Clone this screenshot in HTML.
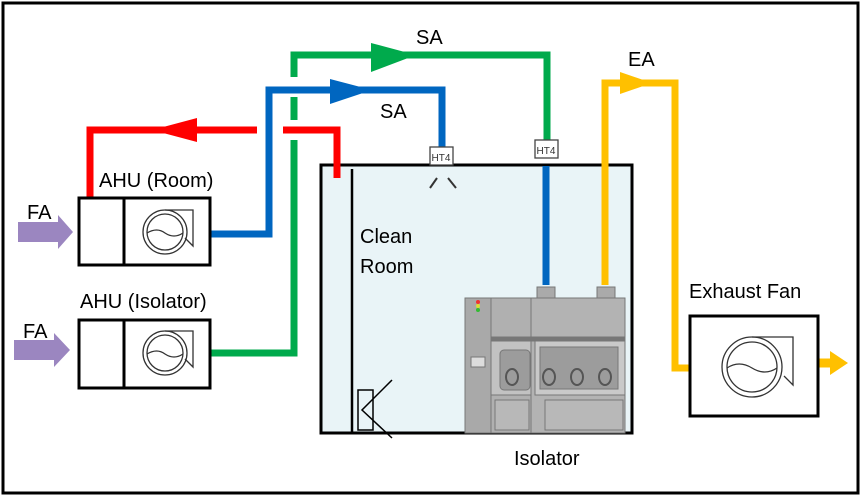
<!DOCTYPE html>
<html><head><meta charset="utf-8"><style>
html,body{margin:0;padding:0;background:#fff;}
svg{display:block;font-family:"Liberation Sans",Arial,sans-serif;}
</style></head><body>
<svg width="865" height="504" viewBox="0 0 865 504" xmlns="http://www.w3.org/2000/svg">
<rect x="3" y="3" width="855" height="490" fill="#fff" stroke="#000" stroke-width="3"/>
<!-- clean room -->
<rect x="321" y="165" width="311" height="268" fill="#e9f4f7" stroke="#000" stroke-width="3"/>
<line x1="352" y1="169" x2="352" y2="433" stroke="#000" stroke-width="2.5"/>
<!-- pipes -->
<g fill="none" stroke-width="7" stroke-linejoin="miter">
<polyline points="210,234 269,234 269,90 442,90 442,150" stroke="#0066c0"/>
<line x1="546" y1="166" x2="546" y2="285" stroke="#0066c0"/>
<polyline points="210,353 294,353 294,140" stroke="#00aa4c"/>
<line x1="294" y1="120" x2="294" y2="97" stroke="#00aa4c"/>
<polyline points="294,77 294,55 547,55 547,141" stroke="#00aa4c"/>
<polyline points="90,198 90,130 257,130" stroke="#ff0000"/>
<polyline points="283,130 337,130 337,178" stroke="#ff0000"/>
<polyline points="605,285 605,83 675,83 675,368 692,368" stroke="#ffc000"/>
<line x1="818" y1="363" x2="832" y2="363" stroke="#ffc000" stroke-width="9"/>
</g>
<!-- arrowheads -->
<polygon points="197,118 197,142 152,130" fill="#ff0000"/>
<polygon points="330,79 330,104 372,90" fill="#0066c0"/>
<polygon points="371,43 371,72 416,55" fill="#00aa4c"/>
<polygon points="620,72 620,94 652,83" fill="#ffc000"/>
<polygon points="830,351 830,375 848,363" fill="#ffc000"/>
<polygon points="18,222 58,222 58,215 73,232 58,249 58,242 18,242" fill="#9b86c0"/>
<polygon points="14,340 54,340 54,333 70,350 54,367 54,360 14,360" fill="#9b86c0"/>
<!-- filters -->
<g stroke="#444" stroke-width="1.3" fill="#fff">
<rect x="430" y="147" width="23" height="18"/>
<rect x="535" y="140" width="23" height="18"/>
</g>
<text x="441" y="161" font-size="10" text-anchor="middle" fill="#333">HT4</text>
<text x="546" y="154" font-size="10" text-anchor="middle" fill="#333">HT4</text>
<g stroke="#333" stroke-width="2"><line x1="437" y1="178" x2="430" y2="188"/><line x1="448" y1="178" x2="456" y2="188"/></g>
<!-- AHUs -->
<g fill="#fff" stroke="#000" stroke-width="3">
<rect x="79" y="198" width="131" height="67"/>
<rect x="79" y="320" width="131" height="68"/>
<rect x="690" y="316" width="128" height="100"/>
</g>
<g stroke="#000" stroke-width="3"><line x1="124" y1="198" x2="124" y2="265"/><line x1="124" y1="320" x2="124" y2="388"/></g>
<g fill="none" stroke="#333" stroke-width="1.3">
<circle cx="165" cy="232" r="22"/><circle cx="165" cy="232" r="18"/><path d="M147,233 q10,-6 18,0 q9,6 18,0"/><polyline points="165,210 193,210 193,246 185,238"/>
<circle cx="165" cy="353" r="22"/><circle cx="165" cy="353" r="18"/><path d="M147,354 q10,-6 18,0 q9,6 18,0"/><polyline points="165,331 193,331 193,367 185,359"/>
<circle cx="752" cy="367" r="30"/><circle cx="752" cy="367" r="25"/><path d="M727,368 q12,-8 25,0 q13,8 25,0"/><polyline points="752,337 793,337 793,385 784,376"/>
</g>
<!-- isolator -->
<g stroke="#777" stroke-width="1">
<rect x="465" y="298" width="160" height="135" fill="#b3b3b3"/>
<rect x="465" y="298" width="26" height="135" fill="#a9a9a9"/>
<rect x="491" y="298" width="40" height="135" fill="#b0b0b0"/>
<rect x="491" y="340" width="40" height="55" fill="#c2c2c2"/>
<rect x="500" y="350" width="30" height="40" fill="#9c9c9c" rx="4"/>
<rect x="535" y="340" width="90" height="55" fill="#c9c9c9"/>
<rect x="540" y="347" width="78" height="42" fill="#9c9c9c"/>
<rect x="531" y="337" width="94" height="4" fill="#777"/>
<rect x="491" y="337" width="40" height="4" fill="#777"/>
<rect x="545" y="400" width="78" height="30" fill="#b8b8b8"/>
<rect x="495" y="400" width="34" height="30" fill="#b8b8b8"/>
<rect x="471" y="357" width="14" height="10" fill="#ddd"/>
<rect x="537" y="287" width="18" height="11" fill="#aaa"/>
<rect x="597" y="287" width="18" height="11" fill="#aaa"/>
</g>
<circle cx="478" cy="302" r="2" fill="#e33"/><circle cx="478" cy="306" r="2" fill="#dd3"/><circle cx="478" cy="310" r="2" fill="#3b3"/>
<g fill="none" stroke="#555" stroke-width="2">
<ellipse cx="512" cy="377" rx="6" ry="8"/><ellipse cx="549" cy="377" rx="6" ry="8"/><ellipse cx="577" cy="377" rx="6" ry="8"/><ellipse cx="605" cy="377" rx="6" ry="8"/>
</g>
<!-- damper -->
<rect x="358" y="390" width="15" height="40" fill="none" stroke="#000" stroke-width="1.5"/>
<g stroke="#000" stroke-width="1.5" fill="none"><polyline points="392,380 362,410 392,438"/></g>
<!-- text -->
<g font-size="20" fill="#000">
<text x="416" y="44">SA</text>
<text x="380" y="118">SA</text>
<text x="628" y="66">EA</text>
<text x="99" y="187">AHU (Room)</text>
<text x="80" y="308">AHU (Isolator)</text>
<text x="27" y="219">FA</text>
<text x="23" y="338">FA</text>
<text x="360" y="243">Clean</text>
<text x="360" y="273">Room</text>
<text x="689" y="298">Exhaust Fan</text>
<text x="514" y="465">Isolator</text>
</g>
</svg>
</body></html>
